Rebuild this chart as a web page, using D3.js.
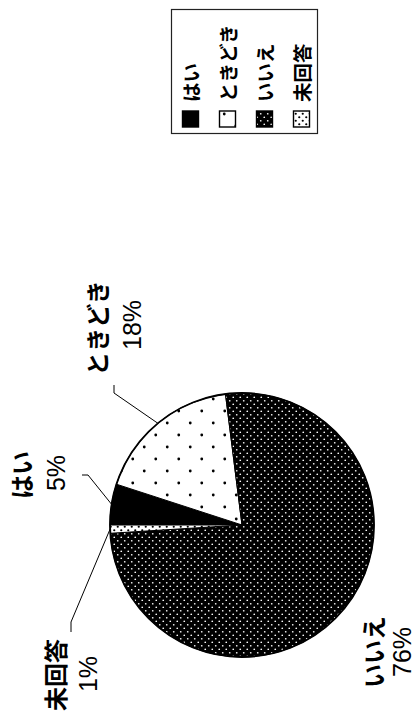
<!DOCTYPE html>
<html>
<head>
<meta charset="utf-8">
<script src="https://cdnjs.cloudflare.com/ajax/libs/d3/7.8.5/d3.min.js"></script>
<style>
  html, body { margin: 0; padding: 0; background: #fff; }
  svg { display: block; }
</style>
</head>
<body>
<svg id="chart" width="418" height="717"></svg>
<script>
  'use strict';

  // data
  var categories = ['はい', 'ときどき', 'いいえ', '未回答'];
  var values = [5, 18, 76, 1];
  var percentLabels = ['5%', '18%', '76%', '1%'];
  var fills = ['url(#pHai)', 'url(#pToki)', 'url(#pIie)', 'url(#pMi)'];

  // layout (image is turned 90deg counter-clockwise)
  var cx = 242, cy = 525, r = 132;
  var nameAt = [[20, 475], [96, 328], [372, 652], [54, 675]];
  var pctAt = [[56, 473], [132, 325], [402, 652], [88, 674]];
  var elbowAt = [[[82, 475], [88, 475]], [[114, 385], [114, 393]], null, [[71, 632], [71, 622]]];

  var svg = d3.select('#chart');
  var defs = svg.append('defs');

  function dotPattern(id, w, h, bg, fg, rad)
  {
    var p = defs.append('pattern')
      .attr('id', id)
      .attr('patternUnits', 'userSpaceOnUse')
      .attr('width', w)
      .attr('height', h);

    p.append('rect').attr('width', w).attr('height', h).attr('fill', bg);
    p.append('circle').attr('cx', w / 4).attr('cy', h / 4).attr('r', rad).attr('fill', fg);
    p.append('circle').attr('cx', w * 3 / 4).attr('cy', h * 3 / 4).attr('r', rad).attr('fill', fg);
  }

  defs.append('pattern')
    .attr('id', 'pHai')
    .attr('patternUnits', 'userSpaceOnUse')
    .attr('width', 4).attr('height', 4)
    .append('rect').attr('width', 4).attr('height', 4).attr('fill', '#000');

  dotPattern('pToki', 23, 24, '#fff', '#000', 1.4);
  dotPattern('pIie', 7, 7, '#000', '#fff', 0.85);
  dotPattern('pMi', 7, 7, '#fff', '#000', 1.1);

  var pie = d3.pie()
    .sort(null)
    .startAngle(-Math.PI / 2)
    .endAngle(Math.PI * 1.5)
    .value(function(d) { return d; });

  var arc = d3.arc().innerRadius(0).outerRadius(r);
  var arcs = pie(values);

  var g = svg.append('g').attr('transform', 'translate(' + cx + ',' + cy + ')');

  g.selectAll('path.slice')
    .data(arcs)
    .enter()
    .append('path')
    .attr('class', 'slice')
    .attr('d', arc)
    .attr('fill', function(d, i) { return fills[i]; })
    .attr('stroke', '#000')
    .attr('stroke-width', 1);

  g.append('circle')
    .attr('r', r)
    .attr('fill', 'none')
    .attr('stroke', '#000')
    .attr('stroke-width', 1.8);

  // leader lines
  arcs.forEach(function(d, i)
  {
    if (!elbowAt[i]) return;

    var a = (d.startAngle + d.endAngle) / 2;
    var edge = [cx + Math.sin(a) * r, cy - Math.cos(a) * r];
    var pts = elbowAt[i].concat([edge]);

    svg.append('path')
      .attr('d', d3.line()(pts))
      .attr('fill', 'none')
      .attr('stroke', '#000')
      .attr('stroke-width', 1);
  });

  function rotText(x, y, txt, size, family, weight, anchor)
  {
    return svg.append('text')
      .attr('transform', 'translate(' + x + ',' + y + ') rotate(-90)')
      .attr('text-anchor', anchor || 'middle')
      .attr('dominant-baseline', 'central')
      .attr('font-family', family)
      .attr('font-size', size)
      .attr('font-weight', weight)
      .attr('fill', '#000')
      .text(txt);
  }

  var jp = '"Noto Sans CJK JP", sans-serif';
  var num = '"Liberation Sans", Arial, sans-serif';

  categories.forEach(function(c, i)
  {
    rotText(nameAt[i][0], nameAt[i][1], c, 24, jp, 700);
    rotText(pctAt[i][0], pctAt[i][1], percentLabels[i], 25, num, 400);
  });

  // legend
  var legend = svg.append('g');

  legend.append('rect')
    .attr('x', 171.5).attr('y', 9.5)
    .attr('width', 146).attr('height', 124)
    .attr('fill', '#fff')
    .attr('stroke', '#222')
    .attr('stroke-width', 1.2);

  var colX = d3.scalePoint().domain(categories).range([190.5, 301.5]);

  categories.forEach(function(c, i)
  {
    var x = colX(c);

    legend.append('rect')
      .attr('x', x - 8).attr('y', 111)
      .attr('width', 16).attr('height', 16)
      .attr('fill', fills[i])
      .attr('stroke', '#000')
      .attr('stroke-width', 1.4);

    rotText(x, 102, c, 19.5, jp, 700, 'start');
  });
</script>
</body>
</html>
